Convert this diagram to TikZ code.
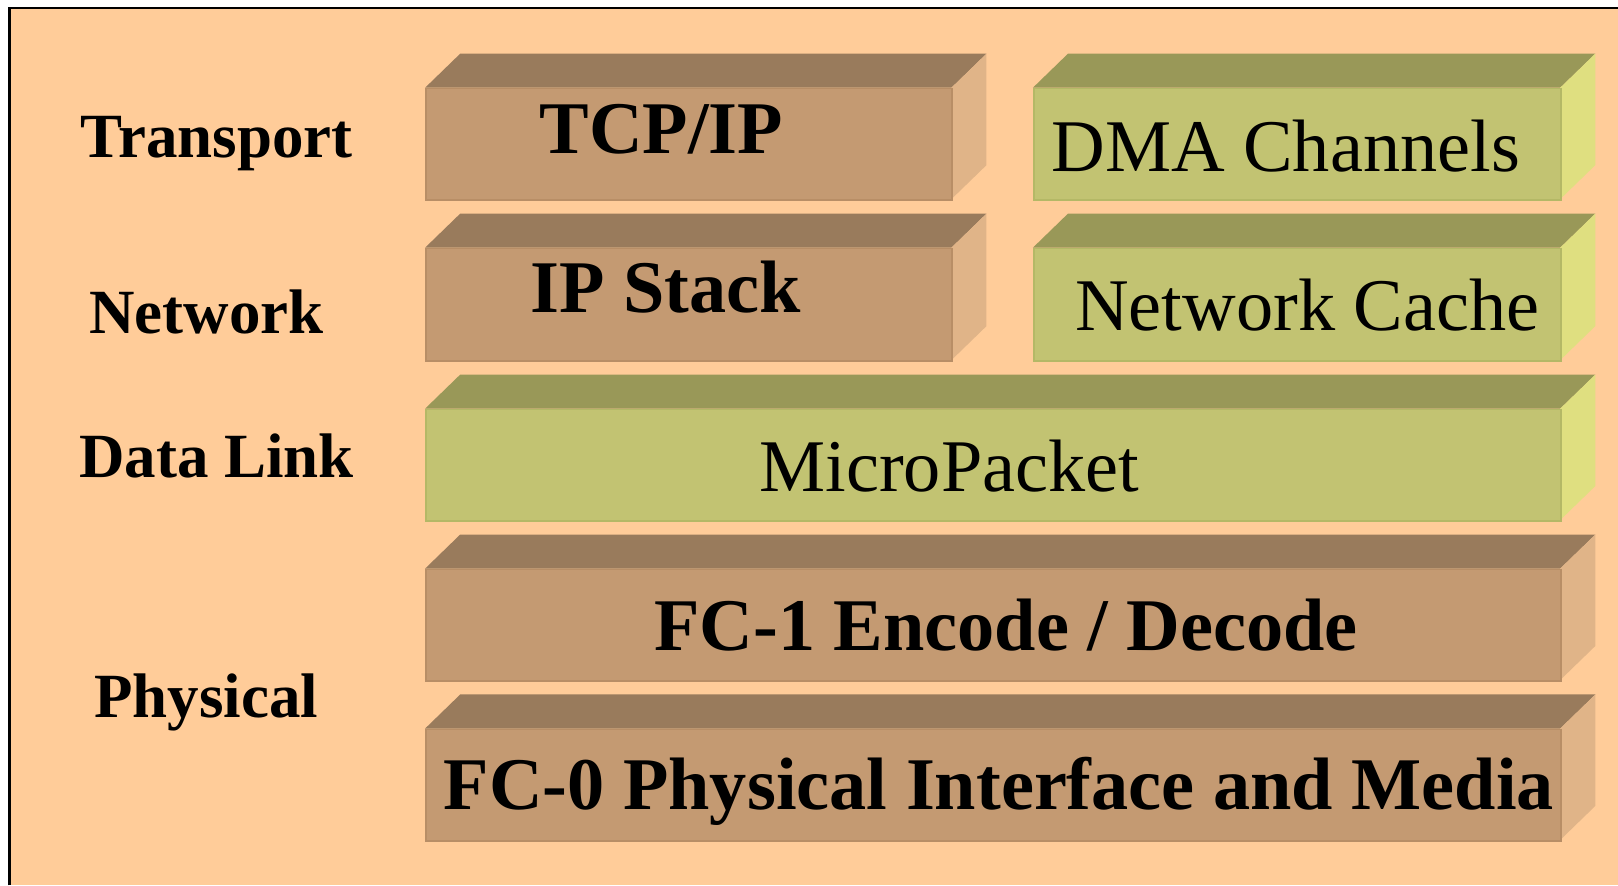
\documentclass[tikz,border=0pt]{standalone}
\usepackage{fontspec}
\setmainfont{Liberation Serif}
\definecolor{bg}{HTML}{FFCC99}
\definecolor{brfront}{HTML}{C49A72}
\definecolor{brtop}{HTML}{997B5C}
\definecolor{brside}{HTML}{E0B488}
\definecolor{brline}{HTML}{B88E66}
\definecolor{grfront}{HTML}{C2C372}
\definecolor{grtop}{HTML}{999858}
\definecolor{grside}{HTML}{DFDF80}
\definecolor{grline}{HTML}{B4B866}
\tikzset{
  boxtext/.style={anchor=base, inner sep=0pt, font=\fontsize{36}{40}\selectfont},
  boxbold/.style={boxtext, font=\fontsize{36}{40}\selectfont\bfseries},
  layerlabel/.style={anchor=base, inner sep=0pt, font=\fontsize{30.5}{34}\selectfont\bfseries},
}
% #1 name, #2 x1, #3 y1, #4 x2, #5 y2, #6 front, #7 top, #8 side, #9 line
\newcommand\slabbox[9]{%
  \fill[#7] (#2,#3) -- (#2+34,#3-33) -- (#4+34,#3-33) -- (#4,#3) -- cycle;
  \fill[#8] (#4,#3) -- (#4+34,#3-33) -- (#4+34,#5-33) -- (#4,#5) -- cycle;
  \node[fill=#6, draw=#9, line width=0.8pt, inner sep=0pt, anchor=north west,
        minimum width={(#4-#2)*0.5pt}, minimum height={(#5-#3)*0.5pt}] (#1) at (#2,#3) {};
}
\begin{document}
\begin{tikzpicture}[x=0.5pt,y=-0.5pt]
\useasboundingbox (0,0) rectangle (1568,858);
\fill[white] (0,0) rectangle (1568,858);
\fill[bg] (9,8) rectangle (1568,858);
\draw[black, line width=1.2pt] (9,858) -- (9,8) -- (1568,8);

\slabbox{tcp}{412}{85}{922}{193}{brfront}{brtop}{brside}{brline}
\slabbox{dma}{1001}{85}{1512}{193}{grfront}{grtop}{grside}{grline}
\slabbox{ips}{412}{240}{922}{349}{brfront}{brtop}{brside}{brline}
\slabbox{ncache}{1001}{240}{1512}{349}{grfront}{grtop}{grside}{grline}
\slabbox{micro}{412}{396}{1512}{504}{grfront}{grtop}{grside}{grline}
\slabbox{fc1}{412}{551}{1512}{659}{brfront}{brtop}{brside}{brline}
\slabbox{fc0}{412}{706}{1512}{814}{brfront}{brtop}{brside}{brline}

\node[boxbold] (ttcp) at (641,149) {TCP/IP};
\node[boxtext] (tdma) at (1246,166) {DMA Channels};
\node[boxbold] (tips) at (645,303) {IP Stack};
\node[boxtext] (tnc) at (1267,320) {Network Cache};
\node[boxtext] (tmicro) at (920,476) {MicroPacket};
\node[boxbold] (tfc1) at (975,630) {FC-1 Encode / Decode};
\node[boxbold] (tfc0) at (968,784) {FC-0 Physical Interface and Media};

\node[layerlabel] (ltrans) at (210,153) {Transport};
\node[layerlabel] (lnet) at (200,323) {Network};
\node[layerlabel] (ldl) at (210,463) {Data Link};
\node[layerlabel] (lphy) at (200,695) {Physical};
\end{tikzpicture}
\end{document}
